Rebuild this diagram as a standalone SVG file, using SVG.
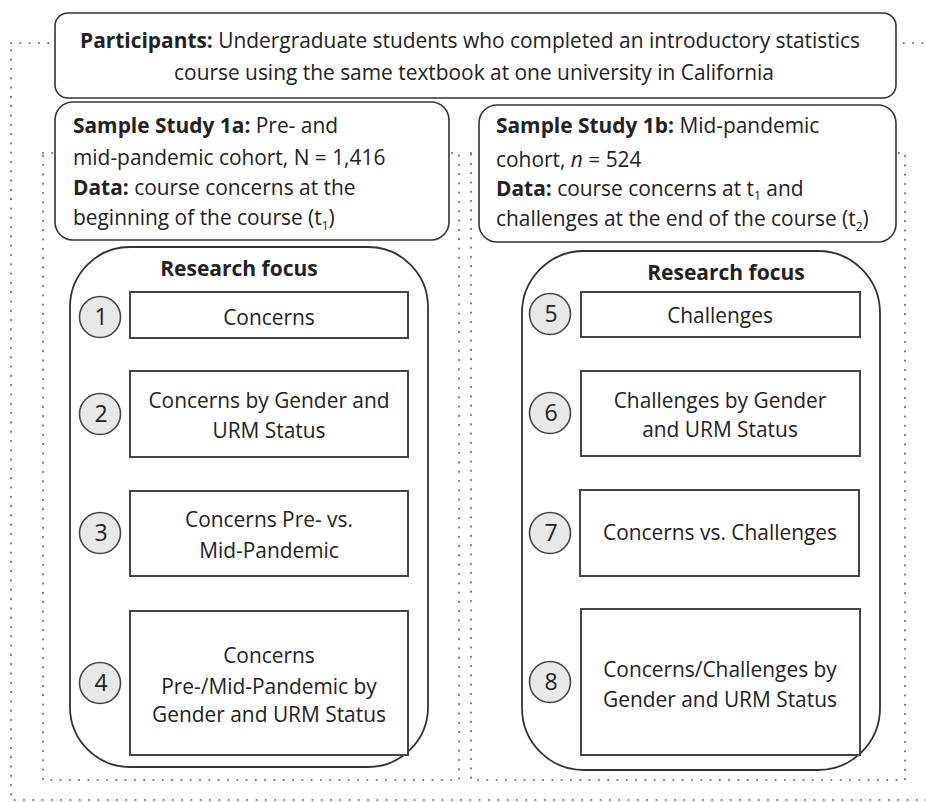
<svg xmlns="http://www.w3.org/2000/svg" width="926" height="802" viewBox="0 0 926 802">
<style>
text{font-family:"Open Sans",Lato,"Liberation Sans",sans-serif;font-size:20.9px;fill:#222}
.b{font-weight:bold}
.c{text-anchor:middle}
.rf{font-size:21px}
.sub{font-size:12px}
.num{font-size:23px;text-anchor:middle}
.dot{fill:none;stroke:#777;stroke-width:2.2;stroke-dasharray:0 9.3;stroke-linecap:round}
.box{fill:#fff;stroke:#333;stroke-width:1.6}
.item{fill:#fff;stroke:#444;stroke-width:2}
.circ{fill:#e8e8e8;stroke:#444;stroke-width:1.6}
.cont{fill:none;stroke:#333;stroke-width:1.8}
</style>
<rect width="926" height="802" fill="#fff"/>
<g id="frames">
<rect class="dot" x="11" y="43" width="930" height="757"/>
<rect class="dot" x="43" y="153" width="416" height="627"/>
<rect class="dot" x="471" y="153" width="434" height="627"/>
</g>
<g id="participants">
<rect class="box" x="55" y="13" width="841" height="85" rx="13"/>
<text class="c" x="470" y="48"><tspan class="b">Participants:</tspan> Undergraduate students who completed an introductory statistics</text>
<text class="c" x="474" y="80">course using the same textbook at one university in California</text>
</g>
<g id="study1a">
<rect class="box" x="55" y="102" width="394" height="138" rx="18"/>
<text x="73" y="133"><tspan class="b">Sample Study 1a:</tspan> Pre- and</text>
<text x="73" y="165">mid-pandemic cohort, N = 1,416</text>
<text x="73" y="195"><tspan class="b">Data:</tspan> course concerns at the</text>
<text x="73" y="225">beginning of the course (t<tspan class="sub" dy="5">1</tspan><tspan dy="-5">)</tspan></text>
</g>
<g id="study1b">
<rect class="box" x="479" y="105" width="417" height="137" rx="18"/>
<text x="496" y="133"><tspan class="b">Sample Study 1b:</tspan> Mid-pandemic</text>
<text x="496" y="167">cohort, <tspan font-style="italic">n</tspan> = 524</text>
<text x="496" y="196"><tspan class="b">Data:</tspan> course concerns at t<tspan class="sub" dy="4">1</tspan><tspan dy="-4"> and</tspan></text>
<text x="496" y="226">challenges at the end of the course (t<tspan class="sub" dy="5">2</tspan><tspan dy="-5">)</tspan></text>
</g>
<g id="focus-left">
<rect class="cont" x="70" y="247" width="358" height="520" rx="60"/>
<text class="b c rf" x="239" y="276">Research focus</text>
</g>
<g id="focus-right">
<rect class="cont" x="522" y="251" width="358" height="519" rx="62"/>
<text class="b c rf" x="726" y="280">Research focus</text>
</g>
<g id="item1">
<rect class="item" x="130" y="292" width="278" height="46"/>
<text class="c" x="269" y="325">Concerns</text>
<circle class="circ" cx="100" cy="317" r="20.5"/>
<text class="num" x="101" y="325">1</text>
</g>
<g id="item2">
<rect class="item" x="130" y="371" width="278" height="86"/>
<text class="c" x="269" y="408">Concerns by Gender and</text>
<text class="c" x="269" y="438">URM Status</text>
<circle class="circ" cx="100" cy="414" r="20.5"/>
<text class="num" x="101" y="422">2</text>
</g>
<g id="item3">
<rect class="item" x="130" y="491" width="278" height="85"/>
<text class="c" x="269" y="527">Concerns Pre- vs.</text>
<text class="c" x="269" y="558">Mid-Pandemic</text>
<circle class="circ" cx="100" cy="533" r="20.5"/>
<text class="num" x="101" y="541">3</text>
</g>
<g id="item4">
<rect class="item" x="130" y="611" width="278" height="144"/>
<text class="c" x="269" y="663">Concerns</text>
<text class="c" x="269" y="694">Pre-/Mid-Pandemic by</text>
<text class="c" x="269" y="722">Gender and URM Status</text>
<circle class="circ" cx="100" cy="683" r="20.5"/>
<text class="num" x="101" y="691">4</text>
</g>
<g id="item5">
<rect class="item" x="581" y="292" width="279" height="45"/>
<text class="c" x="720" y="323">Challenges</text>
<circle class="circ" cx="550" cy="314" r="20.5"/>
<text class="num" x="551" y="322">5</text>
</g>
<g id="item6">
<rect class="item" x="581" y="371" width="279" height="85"/>
<text class="c" x="720" y="408">Challenges by Gender</text>
<text class="c" x="720" y="437">and URM Status</text>
<circle class="circ" cx="550" cy="413" r="20.5"/>
<text class="num" x="551" y="421">6</text>
</g>
<g id="item7">
<rect class="item" x="580" y="490" width="279" height="86"/>
<text class="c" x="720" y="540">Concerns vs. Challenges</text>
<circle class="circ" cx="550" cy="533" r="20.5"/>
<text class="num" x="551" y="541">7</text>
</g>
<g id="item8">
<rect class="item" x="581" y="609" width="279" height="146"/>
<text class="c" x="720" y="677">Concerns/Challenges by</text>
<text class="c" x="720" y="707">Gender and URM Status</text>
<circle class="circ" cx="550" cy="682" r="20.5"/>
<text class="num" x="551" y="690">8</text>
</g>
<g id="connectors"></g>
</svg>
